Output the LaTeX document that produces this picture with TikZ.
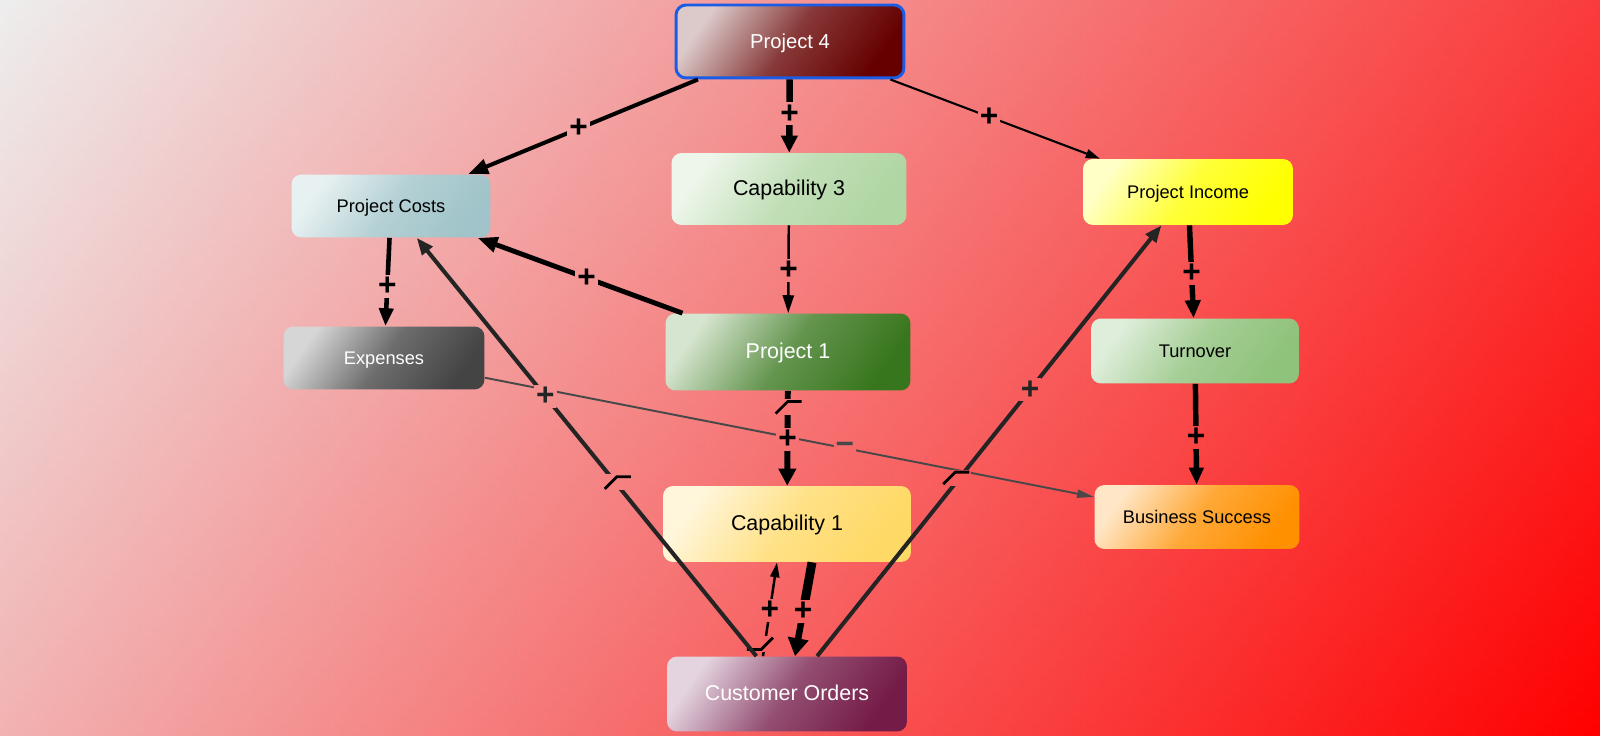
\documentclass[tikz,border=0pt]{standalone}
\usepackage{fontspec}
\setmainfont{Liberation Sans}
\usetikzlibrary{arrows.meta, calc}

\definecolor{bglight}{HTML}{EEEEEE}
\definecolor{bgred}{HTML}{FF0000}
\definecolor{p4light}{HTML}{DCC9C9}
\definecolor{p4dark}{HTML}{660000}
\definecolor{p4border}{HTML}{1A5CE6}
\definecolor{cap3light}{HTML}{EEF6EB}
\definecolor{cap3dark}{HTML}{B0D6A3}
\definecolor{costlight}{HTML}{E8F1F2}
\definecolor{costdark}{HTML}{A0C4C9}
\definecolor{explight}{HTML}{D6D6D6}
\definecolor{expdark}{HTML}{444444}
\definecolor{p1light}{HTML}{D6E5CF}
\definecolor{p1dark}{HTML}{38761D}
\definecolor{cap1light}{HTML}{FFF6DC}
\definecolor{cap1dark}{HTML}{FFD966}
\definecolor{ordlight}{HTML}{E4D4E0}
\definecolor{orddark}{HTML}{741B47}
\definecolor{inclight}{HTML}{FFFFC6}
\definecolor{incdark}{HTML}{FFFF00}
\definecolor{turnlight}{HTML}{DFEEDB}
\definecolor{turndark}{HTML}{8FC27B}
\definecolor{succlight}{HTML}{FFE6C6}
\definecolor{succdark}{HTML}{FF9000}
\definecolor{linkdark}{HTML}{242424}
\definecolor{linkgray}{HTML}{484848}

% diagonal fade of the canvas: a left-right ramp with a top-bottom ramp over it
\newcommand{\bgpaint}{%
    \shade[left color=bglight, right color=bgred] (bgnw) rectangle (bgse);
    \shade[top color=bglight, bottom color=bgred, opacity=0.25] (bgnw) rectangle (bgse);}

\begin{document}
\begin{tikzpicture}[
    x=0.02cm, y=-0.02cm,
    box/.style={rounded corners=5.7pt, inner sep=0pt, align=center,
        text height=0.78em, text depth=0.02em},
    shadebox/.style 2 args={left color=#1, right color=#2,
        middle color=#2!72!#1, shading angle=55},
    bigtext/.style={font=\fontsize{12.2}{14}\selectfont},
    smalltext/.style={font=\fontsize{10.4}{12}\selectfont},
    knock/.style={path picture={\bgpaint}},
    sign/.style={knock, inner sep=1pt, font=\bfseries\fontsize{18}{18}\selectfont},
    wire/.style n args={3}{line width=#1, -{Triangle[length=#2, width=#3]}},
    negmark/.pic={
        \path[knock] (-13,-2) rectangle (15,13);
        \draw[line width=1.6pt] (-12,12) -- (0,0) -- (14,0);
    },
]

% === Background ===
\coordinate (bgnw) at (0,0);
\coordinate (bgse) at (1600,736);
\bgpaint

% === Nodes ===
\node[box, shadebox={p4light}{p4dark}, draw=p4border, line width=1.7pt,
      minimum width=4.56cm, minimum height=1.46cm, text=white,
      font=\fontsize{11.5}{13}\selectfont] (p4) at (790,41.5) {Project 4};
\node[box, bigtext, shadebox={cap3light}{cap3dark},
      minimum width=4.7cm, minimum height=1.44cm] (cap3) at (789,189) {Capability 3};
\node[box, smalltext, shadebox={costlight}{costdark},
      minimum width=3.98cm, minimum height=1.26cm] (costs) at (391,206) {Project Costs};
\node[box, smalltext, shadebox={explight}{expdark}, text=white,
      minimum width=4.02cm, minimum height=1.26cm] (expenses) at (384,358) {Expenses};
\node[box, bigtext, shadebox={p1light}{p1dark}, text=white,
      minimum width=4.9cm, minimum height=1.54cm] (proj1) at (788,352) {Project 1};
\node[box, bigtext, shadebox={cap1light}{cap1dark},
      minimum width=4.96cm, minimum height=1.52cm] (cap1) at (787,524) {Capability 1};
\node[box, bigtext, shadebox={ordlight}{orddark}, text=white,
      minimum width=4.8cm, minimum height=1.5cm] (orders) at (787,694) {Customer Orders};
\node[box, smalltext, shadebox={inclight}{incdark},
      minimum width=4.2cm, minimum height=1.32cm] (income) at (1188,192) {Project Income};
\node[box, smalltext, shadebox={turnlight}{turndark},
      minimum width=4.16cm, minimum height=1.3cm] (turnover) at (1195,351) {Turnover};
\node[box, smalltext, shadebox={succlight}{succdark},
      minimum width=4.1cm, minimum height=1.28cm] (success) at (1197,517) {Business Success};

% === Links ===
\draw[wire={1.1pt}{9.7pt}{4.5pt}, draw=linkgray] (expenses) -- (success);

\draw[wire={2.3pt}{11.4pt}{8.5pt}] (p4) -- (costs);
\draw[wire={3.7pt}{9.7pt}{9.1pt}] (p4) -- (cap3);
\draw[wire={1.2pt}{8pt}{5.1pt}] (p4) -- (income);
\draw[wire={1.4pt}{10.2pt}{6.3pt}] (cap3) -- (proj1);
\draw[wire={2.8pt}{11.4pt}{8.5pt}] (proj1) -- (costs);
\draw[wire={2.6pt}{10.2pt}{8pt}] (costs) -- (expenses);
\draw[wire={3.4pt}{9.7pt}{9.7pt}] (proj1) -- (cap1);
\draw[wire={3.1pt}{10.2pt}{8.5pt}] (income) -- (turnover);
\draw[wire={3.1pt}{9.7pt}{8pt}] (turnover) -- (success);

% pair between Capability 1 and Customer Orders
\coordinate (e14a) at ($(orders.north)+(-24,0)$);
\coordinate (e14b) at ($(cap1.south)+(-10,0)$);
\draw[wire={1.4pt}{8.5pt}{5.1pt}] (e14a) -- (e14b);
\pic[rotate=180] (mk14) at ($(e14a)!0.07!(e14b)+(-3,0)$) {negmark};

\coordinate (e13a) at ($(cap1.south)+(25,0)$);
\coordinate (e13b) at ($(orders.north)+(8,0)$);
\draw[line width=5.1pt] (e13a) -- ($(e13a)!.52!(e13b)$);
\draw[wire={3.7pt}{10.2pt}{11.4pt}] ($(e13a)!.52!(e13b)$) -- (e13b);

\draw[wire={2.3pt}{9.7pt}{7.4pt}, draw=linkdark] (orders) -- (costs);
\draw[wire={2.3pt}{9.7pt}{7.4pt}, draw=linkdark] (orders) -- (income);

% === Signs ===
\node[sign] (s1) at ($(p4)!.53!(costs)$) {+};
\node[sign] (s2) at ($(p4)!.49!(cap3)$) {+};
\node[sign] (s3) at ($(p4)!.5!(income)$) {+};
\node[sign] (s4) at ($(cap3)!.5!(proj1)$) {+};
\node[sign] (s5) at ($(proj1)!.507!(costs)$) {+};
\node[sign] (s6) at ($(costs)!.53!(expenses)$) {+};
\node[sign] (s7) at ($(proj1)!.506!(cap1)$) {+};
\node[sign, text=linkdark] (s8) at ($(orders)!.61!(costs)$) {+};
\node[sign, text=linkdark] (s9) at ($(orders)!.606!(income)$) {+};
\node[sign, text=linkgray] (s10) at ($(expenses)!.567!(success)$) {−};
\node[sign] (s11) at ($(income)!.51!(turnover)$) {+};
\node[sign] (s12) at ($(turnover)!.52!(success)$) {+};
\node[sign] (s13) at ($(e13a)!.52!(e13b)$) {+};
\node[sign] (s14) at ($(e14a)!.49!(e14b)$) {+};

\pic (mk7) at ($(proj1)!.288!(cap1)$) {negmark};
\pic (mk8) at ($(orders)!.445!(costs)+(6,0)$) {negmark};
\pic (mk9) at ($(orders)!.442!(income)+(-9,0)$) {negmark};

\end{tikzpicture}
\end{document}
